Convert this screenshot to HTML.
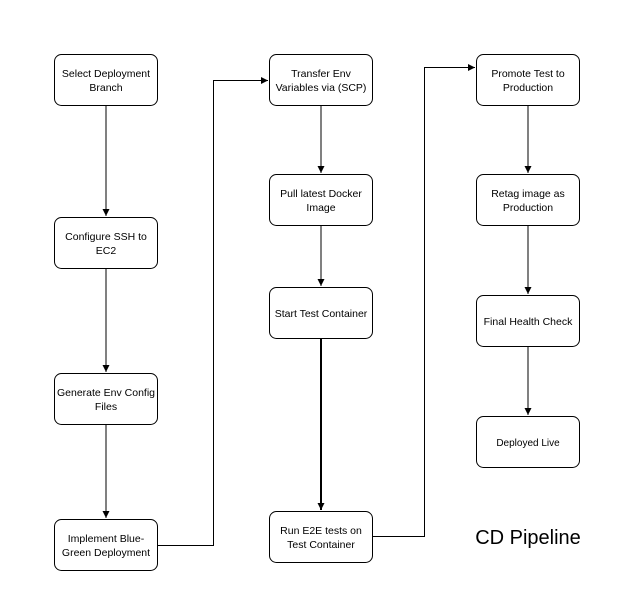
<!DOCTYPE html>
<html><head><style>
body{margin:0;background:#fff;}
</style></head><body>
<svg width="633" height="616" xmlns="http://www.w3.org/2000/svg" style="display:block">
<defs><marker id="a" markerWidth="8" markerHeight="8" refX="7" refY="4" orient="auto" markerUnits="userSpaceOnUse"><path d="M0,0.5 L7,4 L0,7.5 Z" fill="#000"/></marker></defs>
<g fill="#fff" stroke="#000" stroke-width="1">
<rect x="54.5" y="54.5" width="103" height="51" rx="7"/>
<rect x="54.5" y="217.5" width="103" height="51" rx="7"/>
<rect x="54.5" y="373.5" width="103" height="51" rx="7"/>
<rect x="54.5" y="519.5" width="103" height="51" rx="7"/>
<rect x="269.5" y="54.5" width="103" height="51" rx="7"/>
<rect x="269.5" y="174.5" width="103" height="51" rx="7"/>
<rect x="269.5" y="287.5" width="103" height="51" rx="7"/>
<rect x="269.5" y="511.5" width="103" height="51" rx="7"/>
<rect x="476.5" y="54.5" width="103" height="51" rx="7"/>
<rect x="476.5" y="174.5" width="103" height="51" rx="7"/>
<rect x="476.5" y="295.5" width="103" height="51" rx="7"/>
<rect x="476.5" y="416.5" width="103" height="51" rx="7"/>
</g>
<g fill="none" stroke="#000" stroke-width="1" marker-end="url(#a)">
<path d="M106 106 V216"/>
<path d="M106 269 V372"/>
<path d="M106 425 V518"/>
<path d="M158 545.5 H213.5 V80.5 H268"/>
<path d="M321 106 V173"/>
<path d="M321 226 V286"/>
<path d="M321 339 V510" stroke-width="2"/>
<path d="M373 536.5 H424.5 V67.5 H475"/>
<path d="M528 106 V173"/>
<path d="M528 226 V294"/>
<path d="M528 347 V415"/>
</g>
<g font-family="Liberation Sans, sans-serif" font-size="10.5" text-anchor="middle" fill="#000">
<text x="106" y="77">Select Deployment</text><text x="106" y="91">Branch</text>
<text x="106" y="240">Configure SSH to</text><text x="106" y="254">EC2</text>
<text x="106" y="396">Generate Env Config</text><text x="106" y="410">Files</text>
<text x="106" y="542">Implement Blue-</text><text x="106" y="556">Green Deployment</text>
<text x="321" y="77">Transfer Env</text><text x="321" y="91">Variables via (SCP)</text>
<text x="321" y="197">Pull latest Docker</text><text x="321" y="211">Image</text>
<text x="321" y="317">Start Test Container</text>
<text x="321" y="534">Run E2E tests on</text><text x="321" y="548">Test Container</text>
<text x="528" y="77">Promote Test to</text><text x="528" y="91">Production</text>
<text x="528" y="197">Retag image  as</text><text x="528" y="211">Production</text>
<text x="528" y="325">Final Health Check</text>
<text x="528" y="446" font-size="10">Deployed Live</text>
</g>
<text x="528" y="544" font-family="Liberation Sans, sans-serif" font-size="20" text-anchor="middle">CD Pipeline</text>
</svg>
</body></html>
